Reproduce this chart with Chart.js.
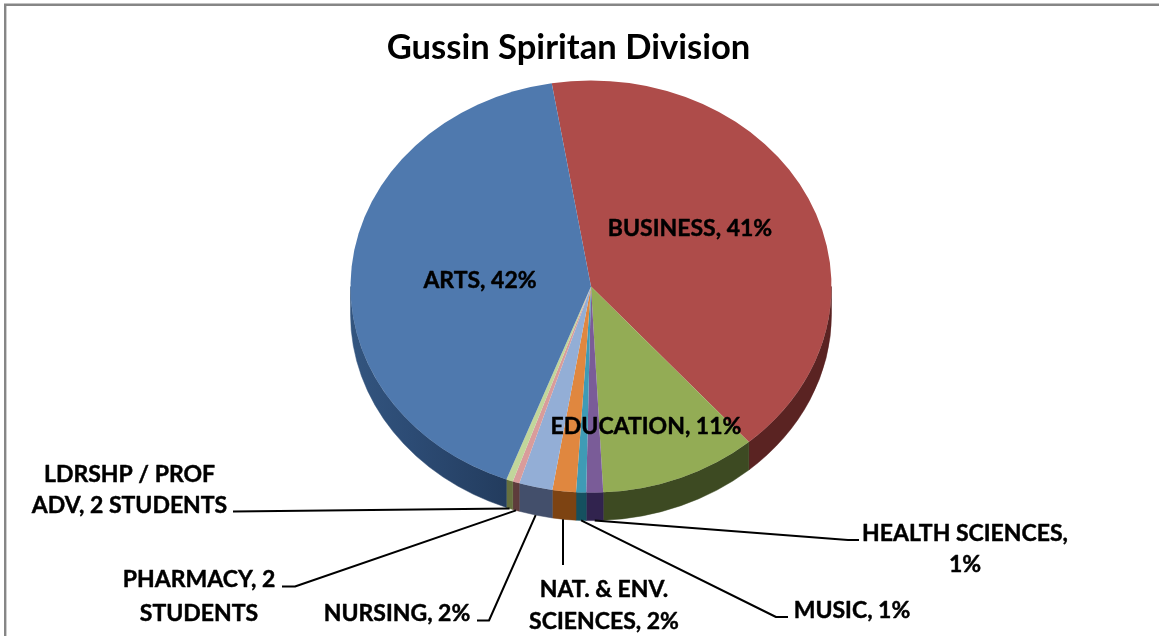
<!DOCTYPE html>
<html><head><meta charset="utf-8">
<style>html,body{margin:0;padding:0;background:#fff}#w{position:relative;width:1159px;height:636px;overflow:hidden}canvas{display:block}</style>
<script src="https://cdn.jsdelivr.net/npm/chart.js@4"></script></head>
<body><div id="w"><canvas id="c" width="1159" height="636"></canvas></div>
<script>
const titleText = "Gussin Spiritan Division";
const categories = ["BUSINESS","EDUCATION","HEALTH SCIENCES","MUSIC","NAT. & ENV. SCIENCES","NURSING","PHARMACY","LDRSHP / PROF ADV","ARTS"];
const students = [183,47,5,3,7,10,2,2,185];
const shownValues = ["41%","11%","1%","1%","2%","2%","2 STUDENTS","2 STUDENTS","42%"];
const topColors = ["#ae4c4a","#93ac55","#7a5c98","#3f9bb5","#e0873f","#93aed6","#d99c9b","#c2d69b","#4f79ae"];
const wallColors = ["#5a2322","#3d4a22","#31234e","#15505f","#7d4312","#434f6b","#5e3c3c","#66703f","#233c5e"];

// layout only: text block centres, wrapped lines and leader elbows
const RADIUS=240.5, SQUASH=0.857, DEPTH=28, FONT=23;
const labelLayout = [
 {i:0,lines:["BUSINESS, 41%"],x:690,y:[227]},
 {i:1,lines:["EDUCATION, 11%"],x:646,y:[425]},
 {i:2,lines:["HEALTH SCIENCES,","1%"],x:965,y:[532,563],elbow:[[848,540],[859,540]]},
 {i:3,lines:["MUSIC, 1%"],x:852,y:[609],elbow:[[776,617],[788,617]]},
 {i:4,lines:["NAT. & ENV.","SCIENCES, 2%"],x:604,y:[588,620],elbow:[[563,565]],sx:563},
 {i:5,lines:["NURSING, 2%"],x:397,y:[612],elbow:[[489,620.5],[477,620.5]]},
 {i:6,lines:["PHARMACY, 2","STUDENTS"],x:199,y:[578,612],elbow:[[295,586.5],[282,586.5]]},
 {i:7,lines:["LDRSHP / PROF","ADV, 2 STUDENTS"],x:129.5,y:[473,504],elbow:[[233,511.5]]},
 {i:8,lines:["ARTS, 42%"],x:480,y:[279]}
];

const threeD = {
 id:'threeD',
 afterLayout(chart){ chart.titleBlock.right -= 45; },
 beforeDraw(chart){
  const c=chart.ctx; c.save(); c.strokeStyle='#868686'; c.lineWidth=2.4;
  c.beginPath(); c.moveTo(5.2,640); c.lineTo(5.2,4.8); c.lineTo(1165,4.8); c.stroke(); c.restore();
 },
 beforeDatasetsDraw(chart){
  const c=chart.ctx, arcs=chart.getDatasetMeta(0).data;
  const x0=arcs[0].x, y0=arcs[0].y;
  const ry=RADIUS*SQUASH;
  arcs.forEach((a,i)=>{
    const p=a.getProps(['startAngle','endAngle','outerRadius']);
    const full=Math.PI*2;
    const s=p.startAngle,e=p.endAngle;
    [[s,e],[s-full,e-full],[s+full,e+full]].forEach(([u,v])=>{
      const from=Math.max(u,0), to=Math.min(v,Math.PI);
      if(to<=from) return;
      let fill=wallColors[i];
      if(i===8){
        fill=c.createLinearGradient(x0-p.outerRadius,0,x0-85,0);
        fill.addColorStop(0,'#33557f'); fill.addColorStop(.4,'#2c4b74'); fill.addColorStop(1,wallColors[i]);
      }
      c.save();
      c.beginPath();
      c.ellipse(x0,y0,p.outerRadius,ry,0,from,to);
      c.ellipse(x0,y0+DEPTH,p.outerRadius,ry,0,to,from,true);
      c.closePath();
      c.fillStyle=fill; c.strokeStyle=fill; c.lineWidth=.5;
      c.fill(); c.stroke();
      c.restore();
    });
  });
  c.save();
  c.translate(x0,y0); c.scale(1,SQUASH); c.translate(-x0,-y0);
 },
 afterDatasetsDraw(chart){
  const c=chart.ctx, arcs=chart.getDatasetMeta(0).data;
  c.restore();
  const x0=arcs[0].x, y0=arcs[0].y;
  c.save();
  c.strokeStyle='#000'; c.lineWidth=2; c.lineJoin='round';
  labelLayout.forEach(l=>{
    if(l.elbow){
      const a=arcs[l.i].getProps(['startAngle','endAngle','outerRadius']);
      const m=(a.startAngle+a.endAngle)/2;
      const sx=l.sx||x0+a.outerRadius*Math.cos(m);
      const sy=y0+a.outerRadius*SQUASH*Math.sin(m)+DEPTH;
      c.beginPath(); c.moveTo(sx,sy);
      l.elbow.forEach(p=>c.lineTo(p[0],p[1]));
      c.stroke();
    }
  });
  c.fillStyle='#000'; c.font='bold '+FONT+'px Lato'; c.textAlign='center'; c.textBaseline='middle';
  c.lineWidth=.45;
  labelLayout.forEach(l=>l.lines.forEach((t,k)=>{c.fillText(t,l.x,l.y[k]+1.5);c.strokeText(t,l.x,l.y[k]+1.5);}));
  c.restore();
 }
};

new Chart(document.getElementById('c'),{
 type:'pie',
 plugins:[threeD],
 data:{labels:categories,datasets:[{data:students,backgroundColor:topColors,borderWidth:0,radius:RADIUS,clip:false}]},
 options:{
  responsive:false,animation:false,rotation:-9.4,
  layout:{padding:{left:102,right:79,top:0,bottom:131.25}},
  plugins:{
   legend:{display:false},tooltip:{enabled:false},
   title:{display:true,text:titleText,color:'#000',font:{family:'Lato',size:34.6,weight:'bold',lineHeight:1.2},padding:{top:26.75,bottom:0},align:'center',fullSize:true}
  }
 }
});
</script></body></html>
